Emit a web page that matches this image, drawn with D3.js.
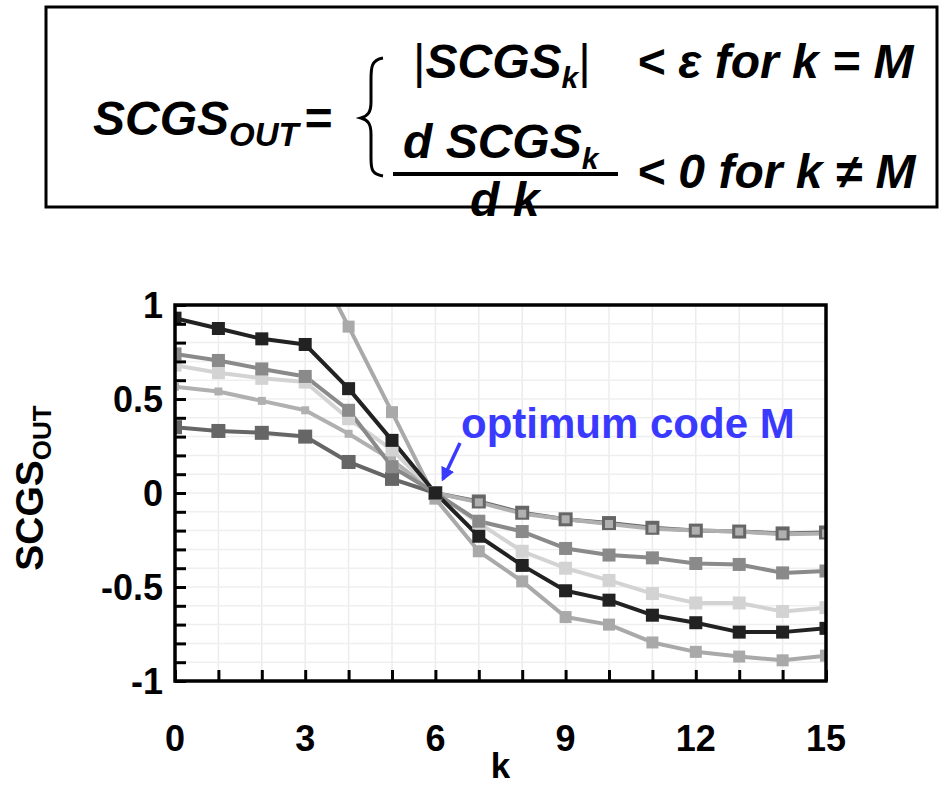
<!DOCTYPE html>
<html>
<head>
<meta charset="utf-8">
<script src="https://cdn.jsdelivr.net/npm/d3@7"></script>
<style>
  body { margin: 0; background: #fff; }
  text { font-family: "Liberation Sans", Arial, sans-serif; font-weight: bold; }
</style>
</head>
<body>
<div id="chart"></div>
<script>
// code index k = 0..15
const kValues = d3.range(0, 16);

// six SCGS_OUT curves (values above 1 are clipped by the frame)
const seriesBlack = [0.93, 0.875, 0.82, 0.79, 0.555, 0.28, 0.0, -0.23, -0.385, -0.52, -0.57, -0.65, -0.69, -0.74, -0.74, -0.72];
const seriesMid   = [0.74, 0.705, 0.66, 0.62, 0.44, 0.14, 0.0, -0.15, -0.205, -0.295, -0.33, -0.345, -0.375, -0.38, -0.425, -0.415];
const seriesLight = [0.68, 0.64, 0.61, 0.59, 0.395, 0.23, 0.0, -0.16, -0.31, -0.40, -0.465, -0.535, -0.585, -0.585, -0.63, -0.61];
const seriesPale  = [0.565, 0.54, 0.49, 0.44, 0.315, 0.175, 0.0, -0.05, -0.11, -0.14, -0.165, -0.19, -0.20, -0.205, -0.22, -0.215];
const seriesDark  = [0.35, 0.33, 0.32, 0.30, 0.165, 0.075, 0.0, -0.045, -0.105, -0.14, -0.16, -0.185, -0.20, -0.205, -0.215, -0.21];
const seriesSteep = [1.6, 1.5, 1.42, 1.33, 0.885, 0.43, -0.03, -0.31, -0.47, -0.66, -0.70, -0.795, -0.845, -0.87, -0.89, -0.865];

const yTicks = [1, 0.5, 0, -0.5, -1];
const yTickLabels = ["1", "0.5", "0", "-0.5", "-1"];
const xTicks = [0, 3, 6, 9, 12, 15];

const series = [
  { values: seriesDark,  color: "#666666", size: 14 },
  { values: seriesPale,  color: "#b0b0b0", size: 8 },
  { values: seriesSteep, color: "#a9a9a9", size: 12 },
  { values: seriesLight, color: "#d3d3d3", size: 13 },
  { values: seriesMid,   color: "#8a8a8a", size: 13 },
  { values: seriesBlack, color: "#222222", size: 13 }
];

const W = 940, H = 786;
const svg = d3.select("#chart").append("svg")
  .attr("width", W)
  .attr("height", H);

// ---------- formula box ----------
const box = svg.append("g");
box.append("rect")
  .attr("x", 46).attr("y", 7)
  .attr("width", 891).attr("height", 200)
  .attr("fill", "none").attr("stroke", "#000").attr("stroke-width", 3);

const fml = box.append("g").style("font-style", "italic");

let t = fml.append("text").attr("x", 93).attr("y", 135).attr("font-size", 48);
t.append("tspan").text("SCGS");
t.append("tspan").attr("font-size", 33).attr("dy", 11).text("OUT");
t.append("tspan").attr("dy", -11).attr("dx", 5).text("=");

// brace
box.append("path")
  .attr("d", "M383,58 C371,60 371,68 371,80 L371,102 C371,112 368,116 361,118 C368,120 371,124 371,134 L371,158 C371,170 372,174 383,176")
  .attr("fill", "none").attr("stroke", "#000").attr("stroke-width", 3);

t = fml.append("text").attr("x", 413).attr("y", 78).attr("font-size", 48);
t.append("tspan").style("font-style", "normal").attr("font-weight", "normal").text("|");
t.append("tspan").text("SCGS");
t.append("tspan").attr("font-size", 30).attr("dy", 10).text("k");
t.append("tspan").attr("dy", -10).style("font-style", "normal").attr("font-weight", "normal").text("|");

fml.append("text").attr("x", 637).attr("y", 78).attr("font-size", 48)
  .text("< ε for k = M");

t = fml.append("text").attr("x", 403).attr("y", 158).attr("font-size", 48);
t.append("tspan").text("d SCGS");
t.append("tspan").attr("font-size", 30).attr("dy", 11).text("k");

box.append("line")
  .attr("x1", 393).attr("x2", 618)
  .attr("y1", 174).attr("y2", 174)
  .attr("stroke", "#000").attr("stroke-width", 4);

fml.append("text").attr("x", 470).attr("y", 216).attr("font-size", 48).text("d k");

fml.append("text").attr("x", 637).attr("y", 188).attr("font-size", 48)
  .text("< 0 for k ≠ M");

// ---------- chart ----------
const x = d3.scaleLinear().domain([0, 15]).range([175, 826]);
const y = d3.scaleLinear().domain([-1, 1]).range([681, 305]);

svg.append("defs").append("clipPath").attr("id", "plotClip")
  .append("rect")
  .attr("x", x(0)).attr("y", y(1))
  .attr("width", x(15) - x(0)).attr("height", y(-1) - y(1));

// grid
const grid = svg.append("g");
grid.selectAll("line.gx")
  .data(kValues)
  .join("line")
  .attr("x1", d => x(d)).attr("x2", d => x(d))
  .attr("y1", y(1)).attr("y2", y(-1))
  .attr("stroke", "#ececec").attr("stroke-width", 1.5);
grid.selectAll("line.gy")
  .data(d3.range(-10, 11).map(d => d / 10))
  .join("line")
  .attr("x1", x(0)).attr("x2", x(15))
  .attr("y1", d => y(d)).attr("y2", d => y(d))
  .attr("stroke", "#efefef").attr("stroke-width", 1.5);

// curves
const plot = svg.append("g").attr("clip-path", "url(#plotClip)");
const line = d3.line().x((d, i) => x(kValues[i])).y(d => y(d));

series.forEach(s => {
  plot.append("path")
    .datum(s.values)
    .attr("d", line)
    .attr("fill", "none")
    .attr("stroke", s.color)
    .attr("stroke-width", 4)
    .attr("stroke-linejoin", "round");
});
series.forEach(s => {
  plot.selectAll(null)
    .data(s.values)
    .join("rect")
    .attr("x", (d, i) => x(kValues[i]) - s.size / 2)
    .attr("y", d => y(d) - s.size / 2)
    .attr("width", s.size).attr("height", s.size)
    .attr("fill", s.color);
});

// axes with inward ticks
const yAxis = d3.axisRight(y)
  .tickValues(d3.range(-10, 11).map(d => d / 10))
  .tickSize(11).tickFormat("");
svg.append("g")
  .attr("transform", `translate(${x(0)},0)`)
  .call(yAxis)
  .call(g => g.select(".domain").remove())
  .selectAll("line").attr("stroke", "#000").attr("stroke-width", 3);

const xAxis = d3.axisTop(x)
  .tickValues(kValues)
  .tickSize(11).tickFormat("");
svg.append("g")
  .attr("transform", `translate(0,${y(-1)})`)
  .call(xAxis)
  .call(g => g.select(".domain").remove())
  .selectAll("line").attr("stroke", "#000").attr("stroke-width", 3);

// frame
svg.append("rect")
  .attr("x", x(0)).attr("y", y(1))
  .attr("width", x(15) - x(0)).attr("height", y(-1) - y(1))
  .attr("fill", "none").attr("stroke", "#000").attr("stroke-width", 3.5);

// tick labels
svg.append("g").selectAll("text")
  .data(yTicks)
  .join("text")
  .attr("x", 163)
  .attr("y", d => y(d) + 13)
  .attr("text-anchor", "end")
  .attr("font-size", 36)
  .text((d, i) => yTickLabels[i]);

svg.append("g").selectAll("text")
  .data(xTicks)
  .join("text")
  .attr("x", d => x(d))
  .attr("y", 751)
  .attr("text-anchor", "middle")
  .attr("font-size", 36)
  .text(d => d);

svg.append("text")
  .attr("x", x(7.5)).attr("y", 778)
  .attr("text-anchor", "middle")
  .attr("font-size", 35)
  .text("k");

const yl = svg.append("text")
  .attr("transform", "translate(43,488) rotate(-90)")
  .attr("text-anchor", "middle")
  .attr("font-size", 39);
yl.append("tspan").text("SCGS");
yl.append("tspan").attr("font-size", 26).attr("dy", 8).text("OUT");

// annotation
svg.append("text")
  .attr("x", 461).attr("y", 438)
  .attr("font-size", 42)
  .attr("fill", "#3a3aff")
  .text("optimum code M");

svg.append("defs").append("marker")
  .attr("id", "arrowHead")
  .attr("viewBox", "0 0 10 10")
  .attr("refX", 8).attr("refY", 5)
  .attr("markerWidth", 4).attr("markerHeight", 4)
  .attr("orient", "auto")
  .append("path").attr("d", "M0,0 L10,5 L0,10 Z").attr("fill", "#3a3aff");

svg.append("line")
  .attr("x1", 460).attr("y1", 443)
  .attr("x2", 443).attr("y2", 479)
  .attr("stroke", "#3a3aff").attr("stroke-width", 3.5)
  .attr("marker-end", "url(#arrowHead)");
</script>
</body>
</html>
